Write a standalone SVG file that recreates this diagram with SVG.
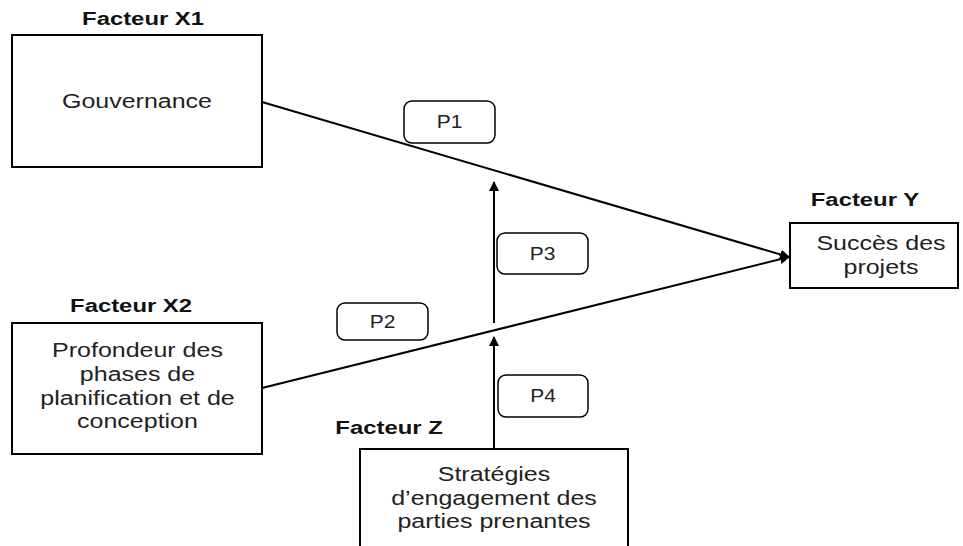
<svg xmlns="http://www.w3.org/2000/svg" width="963" height="546" viewBox="0 0 963 546">
<defs>
<style>
.box{fill:#fff;stroke:#000;stroke-width:2}
.pbox{fill:#fff;stroke:#000;stroke-width:1.5}
.t{font-family:"Liberation Sans",Arial,sans-serif;font-size:20px;fill:#222;text-anchor:middle}
.p{font-family:"Liberation Sans",Arial,sans-serif;font-size:17.5px;fill:#222;text-anchor:middle}
.h{font-family:"Liberation Sans",Arial,sans-serif;font-size:18.5px;font-weight:bold;fill:#111;text-anchor:middle}
.ln{stroke:#000;stroke-width:2;fill:none}
</style>
<marker id="ah" viewBox="0 0 10 10" refX="9" refY="5" markerWidth="5" markerHeight="5" orient="auto" markerUnits="strokeWidth">
<path d="M0,0 L10,5 L0,10 z" fill="#000"/>
</marker>
</defs>
<rect width="963" height="546" fill="#fff"/>
<g id="connectors">
<line class="ln" x1="262" y1="102" x2="789" y2="257" marker-end="url(#ah)"/>
<line class="ln" x1="262" y1="388" x2="789" y2="257" marker-end="url(#ah)"/>
<line class="ln" x1="494" y1="323" x2="494" y2="182" marker-end="url(#ah)"/>
<line class="ln" x1="494" y1="449" x2="494" y2="337" marker-end="url(#ah)"/>
</g>
<g id="x1">
<text class="h" transform="scale(1.29,1)" x="110.9" y="25">Facteur X1</text>
<rect class="box" x="12" y="35" width="250" height="132"/>
<text class="t" transform="scale(1.25,1)" x="109.6" y="108">Gouvernance</text>
</g>
<g id="x2">
<text class="h" transform="scale(1.29,1)" x="101.6" y="312">Facteur X2</text>
<rect class="box" x="12" y="323" width="250" height="131"/>
<text class="t" transform="scale(1.25,1)" x="110" y="357">Profondeur des</text>
<text class="t" transform="scale(1.25,1)" x="110" y="381">phases de</text>
<text class="t" transform="scale(1.25,1)" x="110" y="405">planification et de</text>
<text class="t" transform="scale(1.25,1)" x="110" y="428">conception</text>
</g>
<g id="y">
<text class="h" transform="scale(1.29,1)" x="670.5" y="206">Facteur Y</text>
<rect class="box" x="790" y="223" width="168" height="65"/>
<text class="t" transform="scale(1.25,1)" x="704.8" y="250">Succès des</text>
<text class="t" transform="scale(1.25,1)" x="704.8" y="274">projets</text>
</g>
<g id="z">
<text class="h" transform="scale(1.29,1)" x="301.6" y="434">Facteur Z</text>
<rect class="box" x="360" y="449" width="268" height="110"/>
<text class="t" transform="scale(1.25,1)" x="395.2" y="481">Stratégies</text>
<text class="t" transform="scale(1.25,1)" x="395.2" y="505">d’engagement des</text>
<text class="t" transform="scale(1.25,1)" x="395.2" y="528">parties prenantes</text>
</g>
<g id="p1"><rect class="pbox" x="404" y="101" width="91" height="42" rx="8"/><text class="p" transform="scale(1.2,1)" x="374.6" y="128">P1</text></g>
<g id="p2"><rect class="pbox" x="337" y="303" width="91" height="37" rx="8"/><text class="p" transform="scale(1.2,1)" x="318.75" y="328">P2</text></g>
<g id="p3"><rect class="pbox" x="497" y="233" width="91" height="41" rx="8"/><text class="p" transform="scale(1.2,1)" x="452.1" y="260">P3</text></g>
<g id="p4"><rect class="pbox" x="498" y="375" width="90" height="42" rx="8"/><text class="p" transform="scale(1.2,1)" x="452.5" y="402">P4</text></g>
</svg>
